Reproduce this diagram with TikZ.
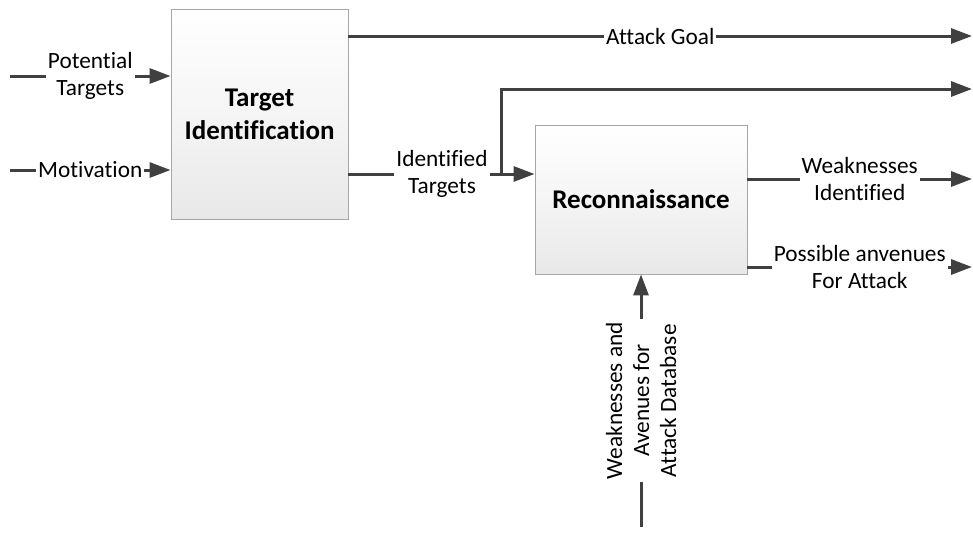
\documentclass[tikz,border=0pt]{standalone}
\usepackage{fontspec}
\setmainfont{Carlito}[Ligatures=NoCommon]
\usetikzlibrary{arrows.meta,shadows}
\definecolor{linec}{HTML}{404040}
\definecolor{boxedge}{HTML}{A6A6A6}
\tikzset{
  procbox/.style={draw=boxedge, line width=0.9pt, top color=white, bottom color=black!9,
    middle color=black!4, align=center, font=\fontsize{27}{33}\selectfont\bfseries,
    drop shadow={shadow xshift=1.2pt, shadow yshift=-1.2pt, opacity=0.25}},
  arr/.style={draw=linec, line width=3pt, -{Triangle[length=21pt,width=15pt]}},
  lbl/.style={fill=white, inner xsep=2pt, inner ysep=0pt, align=center,
    font=\fontsize{23.3}{27}\selectfont, text=black}
}
\begin{document}
\begin{tikzpicture}[x=1pt,y=-1pt]
\useasboundingbox (0,0) rectangle (973,533);
% boxes
\node[procbox, minimum width=177pt, minimum height=210pt] (b1) at (259.5,114) {Target\\Identification};
\node[procbox, minimum width=212pt, minimum height=149pt] (b2) at (641,199.5) {Reconnaissance};
% coordinates
\coordinate (pt0) at (10,76);
\coordinate (mo0) at (10,170);
\coordinate (ag) at (972,36);
\coordinate (itj) at (501,174);
\coordinate (out2) at (972,89);
\coordinate (wi) at (972,179);
\coordinate (pa) at (972,267);
\coordinate (db) at (641,527);
% inputs
\draw[arr] (pt0) -- node[lbl]{Potential\\Targets} (pt0 -| b1.west);
\draw[arr] (mo0) -- node[lbl]{Motivation} (mo0 -| b1.west);
% outputs of b1
\draw[arr] (ag -| b1.east) -- node[lbl]{Attack Goal} (ag);
\draw[arr] (itj -| b1.east) -- node[lbl, xshift=0.5pt]{Identified\\Targets} (itj -| b2.west);
\draw[arr] (itj) |- (out2);
% outputs of b2
\draw[arr] (wi -| b2.east) -- node[lbl]{Weaknesses\\Identified} (wi);
\draw[arr] (pa -| b2.east) -- node[lbl]{Possible anvenues\\For Attack} (pa);
% mechanism input
\draw[arr] (db) -- node[lbl, rotate=90, inner xsep=3pt]{Weaknesses and\\Avenues for\\Attack Database} (b2.south);
\end{tikzpicture}
\end{document}
